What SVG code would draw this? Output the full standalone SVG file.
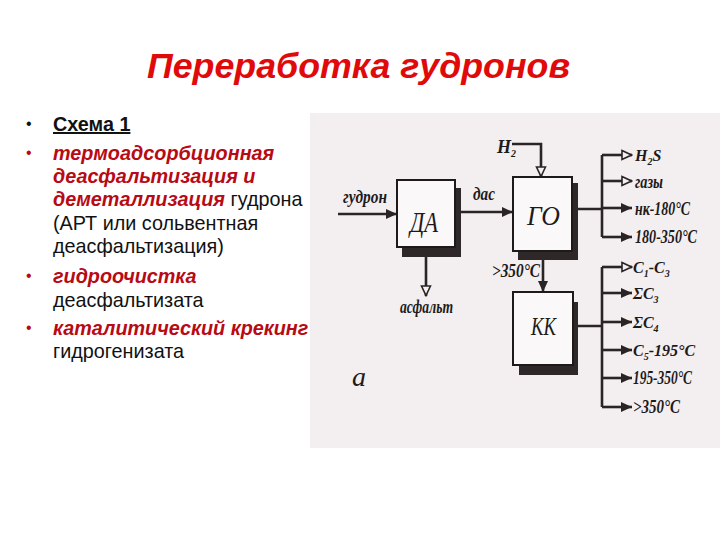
<svg xmlns="http://www.w3.org/2000/svg" width="720" height="540" viewBox="0 0 720 540">
<style>
.title{font-family:"Liberation Sans",Arial,sans-serif;font-weight:bold;font-style:italic;font-size:35px;fill:#e00a0a}
.txt{font-family:"Liberation Sans",Arial,sans-serif;font-size:19.8px;fill:#111}
.em{font-weight:bold;font-style:italic;fill:#b80a14}
.bul{font-family:"Liberation Sans",Arial,sans-serif;font-size:16px}
.lbl{font-family:"Liberation Serif","Times New Roman",serif;font-weight:bold;font-style:italic;font-size:18px;fill:#1e1a1a}
.sub{font-size:10px}
.box{fill:#faf8f8;stroke:#1e1a1a;stroke-width:2}
.shd{fill:#2e2828}
.boxtxt{font-family:"Liberation Serif","Times New Roman",serif;font-style:italic;font-size:28px;fill:#1e1a1a}
.ln{fill:none;stroke:#2a2424;stroke-width:2.6}
.arr{marker-end:url(#fa)}
.oarr{marker-end:url(#oa)}
</style>
<defs>
<marker id="fa" markerUnits="userSpaceOnUse" markerWidth="12" markerHeight="12" refX="11" refY="6" orient="auto">
<path d="M0,1 L11,6 L0,11 z" fill="#2a2424"/>
</marker>
<marker id="oa" markerUnits="userSpaceOnUse" markerWidth="12" markerHeight="12" refX="11" refY="6" orient="auto">
<path d="M1,1.5 L10.5,6 L1,10.5 z" fill="#f4f0f1" stroke="#2a2424" stroke-width="1.6"/>
</marker>
</defs>
<rect width="720" height="540" fill="#ffffff"/>
<g id="title"><text class="title" x="147" y="78" textLength="423" lengthAdjust="spacingAndGlyphs">Переработка гудронов</text></g>
<rect id="scan-bg" x="310" y="113" width="410" height="335" fill="#f3eef0"/>
<g id="bullets">
<text class="bul" x="26" y="129" fill="#111">•</text>
<text class="bul" x="26" y="158" fill="#b80a14">•</text>
<text class="bul" x="26" y="281" fill="#b80a14">•</text>
<text class="bul" x="26" y="333" fill="#b80a14">•</text>
<text class="txt" x="53" y="131" font-weight="bold" text-decoration="underline">Схема 1</text>
<text class="txt" x="53" y="160"><tspan class="em">термоадсорбционная</tspan></text>
<text class="txt" x="53" y="183"><tspan class="em">деасфальтизация и</tspan></text>
<text class="txt" x="53" y="206"><tspan class="em">деметаллизация</tspan> гудрона</text>
<text class="txt" x="53" y="230">(АРТ или сольвентная</text>
<text class="txt" x="53" y="253">деасфальтизация)</text>
<text class="txt" x="53" y="283"><tspan class="em">гидроочистка</tspan></text>
<text class="txt" x="53" y="307">деасфальтизата</text>
<text class="txt" x="53" y="335"><tspan class="em">каталитический крекинг</tspan></text>
<text class="txt" x="53" y="358">гидрогенизата</text>
</g>
<g id="connectors">
<path class="ln arr" d="M338,214 H397"/>
<path class="ln arr" d="M458,212 H513"/>
<path class="ln oarr" d="M512,144 H541 V177"/>
<path class="ln arr" d="M543,260 V292"/>
<path class="ln oarr" d="M426,257 V296"/>
<path class="ln" d="M578,209 H602 M602,155 V237"/>
<path class="ln oarr" d="M602,155 H632"/>
<path class="ln oarr" d="M602,181 H632"/>
<path class="ln arr" d="M602,208 H632"/>
<path class="ln arr" d="M602,237 H632"/>
<path class="ln" d="M578,326 H602 M602,267 V407"/>
<path class="ln oarr" d="M602,267 H632"/>
<path class="ln arr" d="M602,293 H632"/>
<path class="ln arr" d="M602,322 H632"/>
<path class="ln arr" d="M602,350 H632"/>
<path class="ln arr" d="M602,378 H632"/>
<path class="ln arr" d="M602,407 H632"/>
</g>
<g id="node-DA">
<rect class="shd" x="402" y="246" width="59" height="11"/>
<rect class="shd" x="454" y="188" width="7" height="69"/>
<rect class="box" x="397" y="180" width="58" height="67"/>
<text class="boxtxt" x="410" y="232" style="font-size:29px" textLength="28" lengthAdjust="spacingAndGlyphs">ДА</text>
</g>
<g id="node-GO">
<rect class="shd" x="518" y="250" width="60" height="10"/>
<rect class="shd" x="571" y="183" width="7" height="77"/>
<rect class="box" x="513" y="177" width="59" height="74"/>
<text class="boxtxt" x="527" y="225" style="font-size:27px" textLength="33" lengthAdjust="spacingAndGlyphs">ГО</text>
</g>
<g id="node-KK">
<rect class="shd" x="519" y="364" width="59" height="11"/>
<rect class="shd" x="572" y="302" width="6" height="73"/>
<rect class="box" x="513" y="292" width="60" height="73"/>
<text class="boxtxt" x="531" y="335" style="font-size:26px" textLength="25" lengthAdjust="spacingAndGlyphs">КК</text>
</g>
<g id="labels">
<text class="lbl" x="343" y="203" textLength="44" lengthAdjust="spacingAndGlyphs">гудрон</text>
<text class="lbl" x="473" y="200" textLength="22" lengthAdjust="spacingAndGlyphs">дас</text>
<text class="lbl" x="497" y="153">H<tspan class="sub" dy="4">2</tspan></text>
<text class="lbl" x="492" y="277" textLength="48" lengthAdjust="spacingAndGlyphs">&gt;350°C</text>
<text class="lbl" x="400" y="313" textLength="53" lengthAdjust="spacingAndGlyphs">асфальт</text>
<text class="lbl" x="352" y="386" style="font-size:28px;font-weight:normal">а</text>
<text class="lbl" x="635" y="161" style="font-size:16px">H<tspan class="sub" dy="4">2</tspan><tspan dy="-4">S</tspan></text>
<text class="lbl" x="635" y="188" textLength="28" lengthAdjust="spacingAndGlyphs">газы</text>
<text class="lbl" x="635" y="215" textLength="55" lengthAdjust="spacingAndGlyphs">нк-180°C</text>
<text class="lbl" x="635" y="243" textLength="62" lengthAdjust="spacingAndGlyphs">180-350°C</text>
<text class="lbl" x="633" y="273" style="font-size:16px">C<tspan class="sub" dy="4">1</tspan><tspan dy="-4">-C</tspan><tspan class="sub" dy="4">3</tspan></text>
<text class="lbl" x="633" y="299" style="font-size:16px">ΣC<tspan class="sub" dy="4">3</tspan></text>
<text class="lbl" x="633" y="328" style="font-size:16px">ΣC<tspan class="sub" dy="4">4</tspan></text>
<text class="lbl" x="633" y="356" style="font-size:16px">C<tspan class="sub" dy="4">5</tspan><tspan dy="-4">-195°C</tspan></text>
<text class="lbl" x="633" y="384" textLength="59" lengthAdjust="spacingAndGlyphs">195-350°C</text>
<text class="lbl" x="633" y="413" textLength="47" lengthAdjust="spacingAndGlyphs">&gt;350°C</text>
</g>
</svg>
